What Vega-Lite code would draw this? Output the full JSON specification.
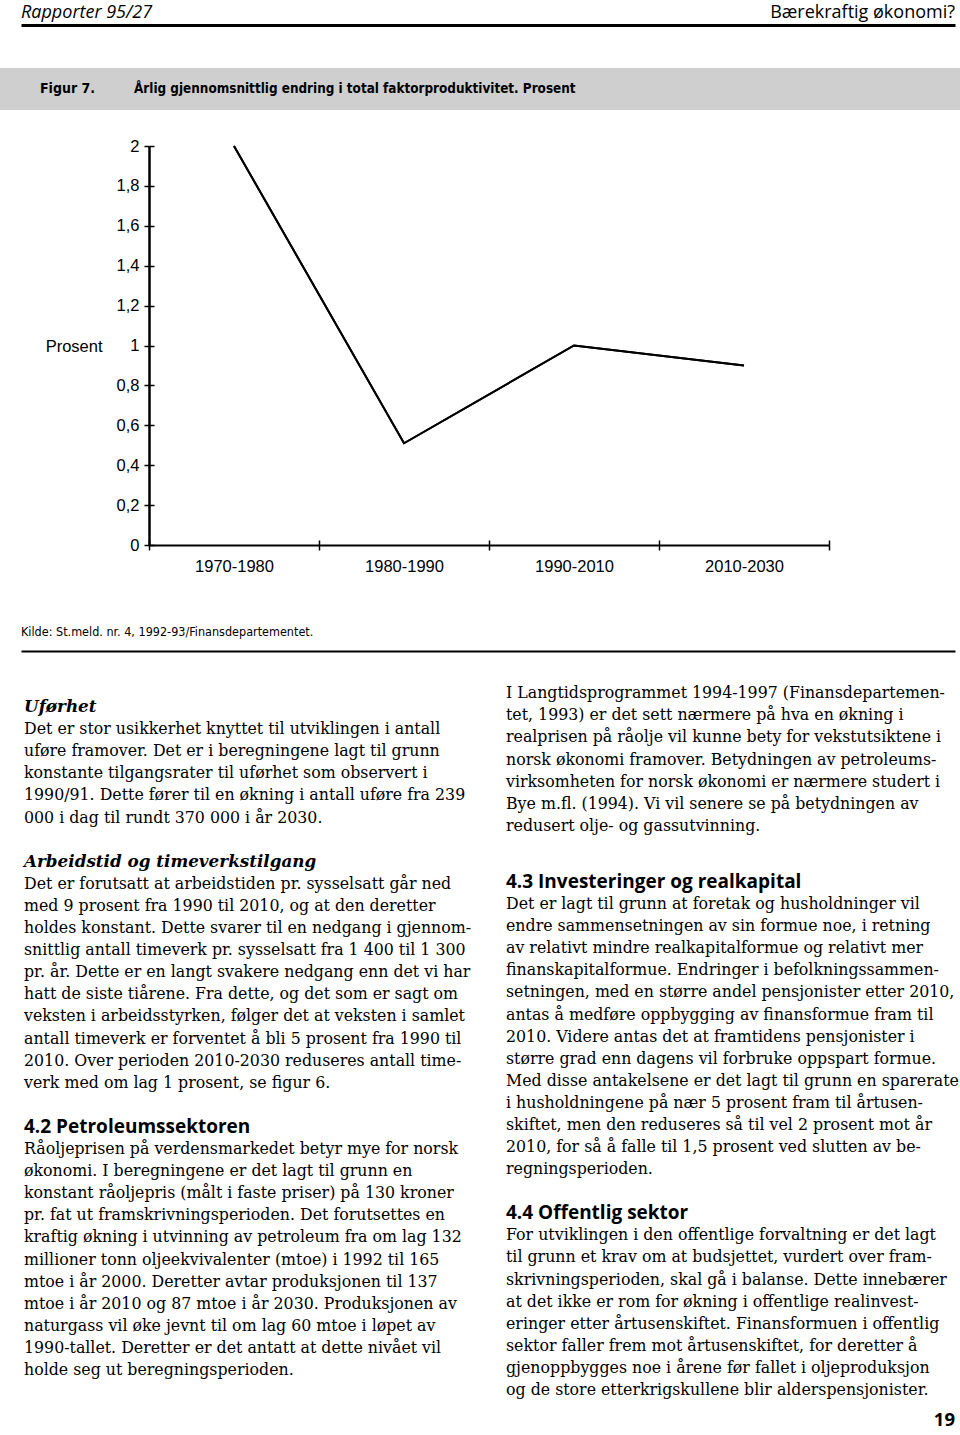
{
  "$schema": "https://vega.github.io/schema/vega-lite/v6.json",
  "padding": 0,
  "background": "white",
  "bounds": "flush",
  "spacing": 0,
  "config": {
    "view": {"stroke": null},
    "axis": {"grid": false},
    "font": "Liberation Sans",
    "text": {"color": "black"}
  },
  "datasets": {
    "venstre": [
      {"linje": 0, "type": "overskrift", "tekst": "Uførhet"},
      {"linje": 1, "type": "tekst", "tekst": "Det er stor usikkerhet knyttet til utviklingen i antall"},
      {"linje": 2, "type": "tekst", "tekst": "uføre framover. Det er i beregningene lagt til grunn"},
      {"linje": 3, "type": "tekst", "tekst": "konstante tilgangsrater til uførhet som observert i"},
      {"linje": 4, "type": "tekst", "tekst": "1990/91. Dette fører til en økning i antall uføre fra 239"},
      {"linje": 5, "type": "tekst", "tekst": "000 i dag til rundt 370 000 i år 2030."},
      {"linje": 7, "type": "overskrift", "tekst": "Arbeidstid og timeverkstilgang"},
      {"linje": 8, "type": "tekst", "tekst": "Det er forutsatt at arbeidstiden pr. sysselsatt går ned"},
      {"linje": 9, "type": "tekst", "tekst": "med 9 prosent fra 1990 til 2010, og at den deretter"},
      {"linje": 10, "type": "tekst", "tekst": "holdes konstant. Dette svarer til en nedgang i gjennom-"},
      {"linje": 11, "type": "tekst", "tekst": "snittlig antall timeverk pr. sysselsatt fra 1 400 til 1 300"},
      {"linje": 12, "type": "tekst", "tekst": "pr. år. Dette er en langt svakere nedgang enn det vi har"},
      {"linje": 13, "type": "tekst", "tekst": "hatt de siste tiårene. Fra dette, og det som er sagt om"},
      {"linje": 14, "type": "tekst", "tekst": "veksten i arbeidsstyrken, følger det at veksten i samlet"},
      {"linje": 15, "type": "tekst", "tekst": "antall timeverk er forventet å bli 5 prosent fra 1990 til"},
      {"linje": 16, "type": "tekst", "tekst": "2010. Over perioden 2010-2030 reduseres antall time-"},
      {"linje": 17, "type": "tekst", "tekst": "verk med om lag 1 prosent, se figur 6."},
      {"linje": 19, "type": "seksjon", "tekst": "4.2  Petroleumssektoren"},
      {"linje": 20, "type": "tekst", "tekst": "Råoljeprisen på verdensmarkedet betyr mye for norsk"},
      {"linje": 21, "type": "tekst", "tekst": "økonomi. I beregningene er det lagt til grunn en"},
      {"linje": 22, "type": "tekst", "tekst": "konstant råoljepris (målt i faste priser) på 130 kroner"},
      {"linje": 23, "type": "tekst", "tekst": "pr. fat ut framskrivningsperioden. Det forutsettes en"},
      {"linje": 24, "type": "tekst", "tekst": "kraftig økning i utvinning av petroleum fra om lag 132"},
      {"linje": 25, "type": "tekst", "tekst": "millioner tonn oljeekvivalenter (mtoe) i 1992 til 165"},
      {"linje": 26, "type": "tekst", "tekst": "mtoe i år 2000. Deretter avtar produksjonen til 137"},
      {"linje": 27, "type": "tekst", "tekst": "mtoe i år 2010 og 87 mtoe i år 2030. Produksjonen av"},
      {"linje": 28, "type": "tekst", "tekst": "naturgass vil øke jevnt til om lag 60 mtoe i løpet av"},
      {"linje": 29, "type": "tekst", "tekst": "1990-tallet. Deretter er det antatt at dette nivået vil"},
      {"linje": 30, "type": "tekst", "tekst": "holde seg ut beregningsperioden."}
    ],
    "hoyre1": [
      {"linje": 0, "type": "tekst", "tekst": "I Langtidsprogrammet 1994-1997 (Finansdepartemen-"},
      {"linje": 1, "type": "tekst", "tekst": "tet, 1993) er det sett nærmere på hva en økning i"},
      {"linje": 2, "type": "tekst", "tekst": "realprisen på råolje vil kunne bety for vekstutsiktene i"},
      {"linje": 3, "type": "tekst", "tekst": "norsk økonomi framover. Betydningen av petroleums-"},
      {"linje": 4, "type": "tekst", "tekst": "virksomheten for norsk økonomi er nærmere studert i"},
      {"linje": 5, "type": "tekst", "tekst": "Bye m.fl. (1994). Vi vil senere se på betydningen av"},
      {"linje": 6, "type": "tekst", "tekst": "redusert olje- og gassutvinning."}
    ],
    "hoyre2": [
      {"linje": 0, "type": "seksjon", "tekst": "4.3  Investeringer og realkapital"},
      {"linje": 1, "type": "tekst", "tekst": "Det er lagt til grunn at foretak og husholdninger vil"},
      {"linje": 2, "type": "tekst", "tekst": "endre sammensetningen av sin formue noe, i retning"},
      {"linje": 3, "type": "tekst", "tekst": "av relativt mindre realkapitalformue og relativt mer"},
      {"linje": 4, "type": "tekst", "tekst": "finanskapitalformue. Endringer i befolkningssammen-"},
      {"linje": 5, "type": "tekst", "tekst": "setningen, med en større andel pensjonister etter 2010,"},
      {"linje": 6, "type": "tekst", "tekst": "antas å medføre oppbygging av finansformue fram til"},
      {"linje": 7, "type": "tekst", "tekst": "2010. Videre antas det at framtidens pensjonister i"},
      {"linje": 8, "type": "tekst", "tekst": "større grad enn dagens vil forbruke oppspart formue."},
      {"linje": 9, "type": "tekst", "tekst": "Med disse antakelsene er det lagt til grunn en sparerate"},
      {"linje": 10, "type": "tekst", "tekst": "i husholdningene på nær 5 prosent fram til årtusen-"},
      {"linje": 11, "type": "tekst", "tekst": "skiftet, men den reduseres så til vel 2 prosent mot år"},
      {"linje": 12, "type": "tekst", "tekst": "2010, for så å falle til 1,5 prosent ved slutten av be-"},
      {"linje": 13, "type": "tekst", "tekst": "regningsperioden."},
      {"linje": 15, "type": "seksjon", "tekst": "4.4  Offentlig sektor"},
      {"linje": 16, "type": "tekst", "tekst": "For utviklingen i den offentlige forvaltning er det lagt"},
      {"linje": 17, "type": "tekst", "tekst": "til grunn et krav om at budsjettet, vurdert over fram-"},
      {"linje": 18, "type": "tekst", "tekst": "skrivningsperioden, skal gå i balanse. Dette innebærer"},
      {"linje": 19, "type": "tekst", "tekst": "at det ikke er rom for økning i offentlige realinvest-"},
      {"linje": 20, "type": "tekst", "tekst": "eringer etter årtusenskiftet. Finansformuen i offentlig"},
      {"linje": 21, "type": "tekst", "tekst": "sektor faller frem mot årtusenskiftet, for deretter å"},
      {"linje": 22, "type": "tekst", "tekst": "gjenoppbygges noe i årene før fallet i oljeproduksjon"},
      {"linje": 23, "type": "tekst", "tekst": "og de store etterkrigskullene blir alderspensjonister."}
    ]
  },
  "vconcat": [
    {
      "hconcat": [
        {"width": 21, "height": 25, "data": {"values": []}, "mark": "point"},
        {
          "width": 934,
          "height": 25,
          "layer": [
            {
              "data": {"values": [{"tekst": "Rapporter 95/27"}]},
              "mark": {"type": "text", "align": "left", "baseline": "middle", "font": "Open Sans", "fontSize": 18, "fontStyle": "italic", "color": "black"},
              "encoding": {
                "x": {"datum": "venstre", "type": "nominal", "scale": {"type": "point", "padding": 0, "domain": ["venstre", "høyre"]}, "axis": {"title": null, "labels": false, "ticks": false, "domain": true, "domainWidth": 3, "domainColor": "black", "orient": "bottom"}},
                "text": {"field": "tekst"}
              }
            },
            {
              "data": {"values": [{"tekst": "Bærekraftig økonomi?"}]},
              "mark": {"type": "text", "align": "right", "baseline": "middle", "font": "Open Sans", "fontSize": 18, "color": "black"},
              "encoding": {
                "x": {"datum": "høyre", "type": "nominal", "scale": {"type": "point", "padding": 0, "domain": ["venstre", "høyre"]}, "axis": {"title": null, "labels": false, "ticks": false, "domain": true, "domainWidth": 3, "domainColor": "black", "orient": "bottom"}},
                "text": {"field": "tekst"}
              }
            }
          ]
        }
      ],
      "spacing": 0,
      "bounds": "flush"
    },
    {"width": 1, "height": 68, "data": {"values": []}, "mark": "point"},
    {
      "hconcat": [
        {"width": 40, "height": 42, "view": {"fill": "#cfcfcf", "stroke": null}, "data": {"values": []}, "mark": "point"},
        {
          "width": 94,
          "height": 42,
          "view": {"fill": "#cfcfcf", "stroke": null},
          "data": {"values": [{"tekst": "Figur 7."}]},
          "mark": {"type": "text", "align": "left", "baseline": "middle", "font": "DejaVu Sans Condensed", "fontWeight": "bold", "fontSize": 14, "color": "black"},
          "encoding": {
            "x": {"datum": "nr", "type": "nominal", "scale": {"type": "point", "padding": 0, "align": 0}, "axis": null},
            "text": {"field": "tekst"}
          }
        },
        {
          "width": 826,
          "height": 42,
          "view": {"fill": "#cfcfcf", "stroke": null},
          "data": {"values": [{"tekst": "Årlig gjennomsnittlig endring i total faktorproduktivitet. Prosent"}]},
          "mark": {"type": "text", "align": "left", "baseline": "middle", "font": "DejaVu Sans Condensed", "fontWeight": "bold", "fontSize": 13.4, "color": "black"},
          "encoding": {
            "x": {"datum": "tittel", "type": "nominal", "scale": {"type": "point", "padding": 0, "align": 0}, "axis": null},
            "text": {"field": "tekst"}
          }
        }
      ],
      "spacing": 0,
      "bounds": "flush"
    },
    {"width": 1, "height": 78, "data": {"values": []}, "mark": "point"},
    {
      "hconcat": [
        {"width": 149, "height": 399, "data": {"values": []}, "mark": "point"},
        {
          "width": 680,
          "height": 399,
          "data": {"values": [
            {"periode": "1970-1980", "prosent": 2.0},
            {"periode": "1980-1990", "prosent": 0.51},
            {"periode": "1990-2010", "prosent": 1.0},
            {"periode": "2010-2030", "prosent": 0.9}
          ]},
          "layer": [
            {
              "mark": {"type": "line", "color": "black", "strokeWidth": 2},
              "encoding": {
                "x": {
                  "field": "periode", "type": "ordinal", "sort": null, "bandPosition": 0.5,
                  "scale": {"type": "band", "paddingInner": 0, "paddingOuter": 0},
                  "axis": {"title": null, "tickBand": "extent", "labelAngle": 0, "labelFont": "Liberation Sans", "labelFontSize": 16.5, "labelColor": "black", "labelPadding": 8, "labelOverlap": false, "domainColor": "black", "domainWidth": 2, "tickColor": "black", "tickWidth": 1.5, "tickSize": 5}
                },
                "y": {
                  "field": "prosent", "type": "quantitative",
                  "scale": {"domain": [0, 2], "nice": false, "zero": true},
                  "axis": {
                    "values": [0, 0.2, 0.4, 0.6, 0.8, 1, 1.2, 1.4, 1.6, 1.8, 2],
                    "labelExpr": "replace(format(datum.value, '~g'), '.', ',')",
                    "labelFlush": false, "labelOverlap": false,
                    "title": "Prosent", "titleAngle": 0, "titleAlign": "right", "titleBaseline": "middle", "titleX": -47, "titleY": 200,
                    "titleFont": "Liberation Sans", "titleFontSize": 16.5, "titleFontWeight": "normal", "titleColor": "black",
                    "labelFont": "Liberation Sans", "labelFontSize": 16.5, "labelColor": "black", "labelPadding": 5,
                    "domainColor": "black", "domainWidth": 2.5, "tickColor": "black", "tickWidth": 1.5, "tickSize": 5
                  }
                }
              }
            },
            {
              "mark": {"type": "line", "color": "black", "strokeWidth": 2},
              "encoding": {
                "x": {
                  "field": "periode", "type": "ordinal", "sort": null, "bandPosition": 0.5,
                  "scale": {"type": "band", "paddingInner": 0, "paddingOuter": 0},
                  "axis": {"orient": "bottom", "offset": -5, "title": null, "tickBand": "extent", "labels": false, "domain": false, "tickColor": "black", "tickWidth": 1.5, "tickSize": 5}
                },
                "y": {
                  "field": "prosent", "type": "quantitative",
                  "scale": {"domain": [0, 2], "nice": false, "zero": true},
                  "axis": {"orient": "left", "offset": -5, "title": null, "labels": false, "domain": false, "values": [0, 0.2, 0.4, 0.6, 0.8, 1, 1.2, 1.4, 1.6, 1.8, 2], "tickColor": "black", "tickWidth": 1.5, "tickSize": 5}
                }
              }
            }
          ],
          "resolve": {"axis": {"x": "independent", "y": "independent"}}
        }
      ],
      "spacing": 0,
      "bounds": "flush"
    },
    {"width": 1, "height": 466, "data": {"values": []}, "mark": "point"},
    {
      "hconcat": [
        {"width": 21, "height": 39, "data": {"values": []}, "mark": "point"},
        {
          "width": 934,
          "height": 39,
          "data": {"values": [{"tekst": "Kilde: St.meld. nr. 4, 1992-93/Finansdepartementet."}]},
          "mark": {"type": "text", "align": "left", "baseline": "middle", "font": "DejaVu Sans Condensed", "fontSize": 12.5, "color": "black"},
          "encoding": {
            "x": {"datum": "kilde", "type": "nominal", "scale": {"type": "point", "padding": 0, "align": 0}, "axis": {"title": null, "labels": false, "ticks": false, "domain": true, "domainWidth": 2, "domainColor": "black", "orient": "bottom"}},
            "text": {"field": "tekst"}
          }
        }
      ],
      "spacing": 0,
      "bounds": "flush"
    },
    {"width": 1, "height": 81, "data": {"values": []}, "mark": "point"},
    {
      "hconcat": [
        {"width": 24, "height": 1, "data": {"values": []}, "mark": "point"},
        {
          "vconcat": [
            {"width": 482, "height": 14, "data": {"values": []}, "mark": "point"},
            {
              "width": 482,
              "height": 663,
              "data": {"name": "venstre"},
              "encoding": {
                "x": {"datum": "spalte", "type": "nominal", "scale": {"type": "point", "padding": 0, "align": 0}, "axis": null},
                "y": {"field": "linje", "type": "quantitative", "scale": {"domain": [0, 30], "reverse": true, "nice": false, "zero": false}, "axis": null},
                "text": {"field": "tekst"}
              },
              "layer": [
                {"transform": [{"filter": "datum.type === 'tekst'"}], "mark": {"type": "text", "align": "left", "baseline": "middle", "font": "DejaVu Serif", "fontSize": 15.8, "color": "black"}},
                {"transform": [{"filter": "datum.type === 'overskrift'"}], "mark": {"type": "text", "align": "left", "baseline": "middle", "font": "DejaVu Serif", "fontSize": 16.8, "fontWeight": "bold", "fontStyle": "italic", "color": "black"}},
                {"transform": [{"filter": "datum.type === 'seksjon'"}], "mark": {"type": "text", "align": "left", "baseline": "middle", "font": "Open Sans", "fontSize": 19, "fontWeight": "bold", "color": "black"}}
              ]
            }
          ],
          "spacing": 0,
          "bounds": "flush"
        },
        {"width": 482, "height": 1, "data": {"values": []}, "mark": "point"},
        {
          "vconcat": [
            {
              "width": 454,
              "height": 133,
              "data": {"name": "hoyre1"},
              "mark": {"type": "text", "align": "left", "baseline": "middle", "font": "DejaVu Serif", "fontSize": 15.8, "color": "black"},
              "encoding": {
                "x": {"datum": "spalte", "type": "nominal", "scale": {"type": "point", "padding": 0, "align": 0}, "axis": null},
                "y": {"field": "linje", "type": "quantitative", "scale": {"domain": [0, 6], "reverse": true, "nice": false, "zero": false}, "axis": null},
                "text": {"field": "tekst"}
              }
            },
            {
              "width": 454,
              "height": 508,
              "data": {"name": "hoyre2"},
              "encoding": {
                "x": {"datum": "spalte", "type": "nominal", "scale": {"type": "point", "padding": 0, "align": 0}, "axis": null},
                "y": {"field": "linje", "type": "quantitative", "scale": {"domain": [0, 23], "reverse": true, "nice": false, "zero": false}, "axis": null},
                "text": {"field": "tekst"}
              },
              "layer": [
                {"transform": [{"filter": "datum.type === 'tekst'"}], "mark": {"type": "text", "align": "left", "baseline": "middle", "font": "DejaVu Serif", "fontSize": 15.8, "color": "black"}},
                {"transform": [{"filter": "datum.type === 'seksjon'"}], "mark": {"type": "text", "align": "left", "baseline": "middle", "font": "Open Sans", "fontSize": 19, "fontWeight": "bold", "color": "black"}}
              ]
            }
          ],
          "spacing": 56,
          "bounds": "flush"
        }
      ],
      "spacing": 0,
      "bounds": "flush"
    },
    {"width": 1, "height": 722, "data": {"values": []}, "mark": "point"},
    {
      "width": 955,
      "height": 10,
      "data": {"values": [{"side": "19"}]},
      "mark": {"type": "text", "align": "right", "baseline": "middle", "font": "Open Sans", "fontSize": 18.5, "fontWeight": "bold", "color": "black"},
      "encoding": {
        "x": {"datum": "side", "type": "nominal", "scale": {"type": "point", "padding": 0, "align": 1}, "axis": null},
        "text": {"field": "side"}
      }
    }
  ]
}
